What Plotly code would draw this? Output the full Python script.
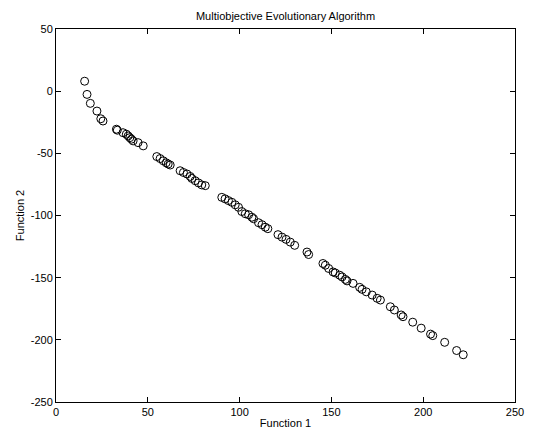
import plotly.graph_objects as go

title_text = "Multiobjective Evolutionary Algorithm"
x_label = "Function 1"
y_label = "Function 2"

f1 = [15.6, 16.9, 18.7, 22.3, 24.4, 25.6, 32.9, 33.4, 36.5, 38.3, 39.3, 40.2, 41.1, 42.0,
      44.7, 47.5, 54.9, 56.7, 58.4, 60.0, 61.1, 62.2, 67.6, 69.4, 71.3, 73.1, 74.0, 75.8,
      77.6, 79.4, 81.3, 90.3, 92.1, 93.9, 95.8, 97.6, 99.4, 101.2, 103.1, 104.9, 106.7,
      107.6, 110.3, 112.2, 114.0, 115.4, 120.9, 123.1, 125.3, 127.6, 130.0, 136.7, 137.6,
      145.4, 146.7, 148.5, 150.9, 152.1, 154.5, 155.8, 157.6, 158.5, 161.8, 165.4, 166.7,
      169.0, 172.2, 174.9, 176.7, 182.1, 184.3, 188.0, 189.0, 194.3, 198.9, 204.0, 205.2,
      211.7, 218.2, 221.8]
f2 = [8.0, -2.6, -9.8, -16.0, -22.2, -24.0, -30.6, -31.4, -33.4, -34.6, -36.0, -37.4, -38.6,
      -40.0, -41.4, -44.0, -52.6, -54.2, -56.0, -57.6, -58.6, -59.4, -64.0, -65.4, -66.6,
      -68.6, -70.2, -72.0, -73.8, -75.4, -76.0, -85.4, -86.6, -88.0, -89.4, -91.4, -93.4,
      -96.8, -98.6, -99.4, -101.4, -102.6, -105.8, -107.4, -109.4, -110.6, -115.4, -117.4,
      -119.2, -121.4, -124.0, -129.4, -131.4, -138.6, -140.0, -142.6, -145.4, -146.2, -148.0,
      -149.4, -151.4, -152.6, -154.6, -157.8, -159.4, -161.4, -164.0, -166.6, -168.0, -173.4,
      -176.0, -180.0, -181.4, -185.8, -190.6, -195.4, -196.6, -202.0, -208.6, -212.0]

x_ticks = [0, 50, 100, 150, 200, 250]
y_ticks = [-250, -200, -150, -100, -50, 0, 50]

fig = go.Figure()
fig.add_trace(go.Scatter(
    x=f1, y=f2, mode="markers",
    marker=dict(symbol="circle-open", size=8, color="black", line=dict(width=1, color="black")),
    showlegend=False,
))

axis_common = dict(
    showgrid=False, zeroline=False, showline=True, linecolor="black", linewidth=1,
    mirror="ticks", ticks="inside", ticklen=5, tickcolor="black", tickwidth=1,
    automargin=False,
    tickfont=dict(family="Liberation Sans, Arial, sans-serif", size=11, color="black"),
)

fig.update_layout(
    width=533, height=426,
    margin=dict(l=48, r=26, t=21, b=32),
    paper_bgcolor="white", plot_bgcolor="white",
    font=dict(family="Liberation Sans, Arial, sans-serif", size=11, color="black"),
    title=dict(text=title_text, xref="paper", x=0.5, xanchor="center",
               yref="container", y=0.99, yanchor="top",
               font=dict(size=11, color="black")),
    xaxis=dict(range=[0, 250], tickvals=x_ticks, ticktext=[str(v) for v in x_ticks],
               title=dict(text=x_label, standoff=2, font=dict(size=11)), **axis_common),
    yaxis=dict(range=[-250, 50], tickvals=y_ticks, ticktext=[str(v) for v in y_ticks],
               title=dict(text=y_label, standoff=3, font=dict(size=11)), **axis_common),
)

fig.write_html("out.html")
